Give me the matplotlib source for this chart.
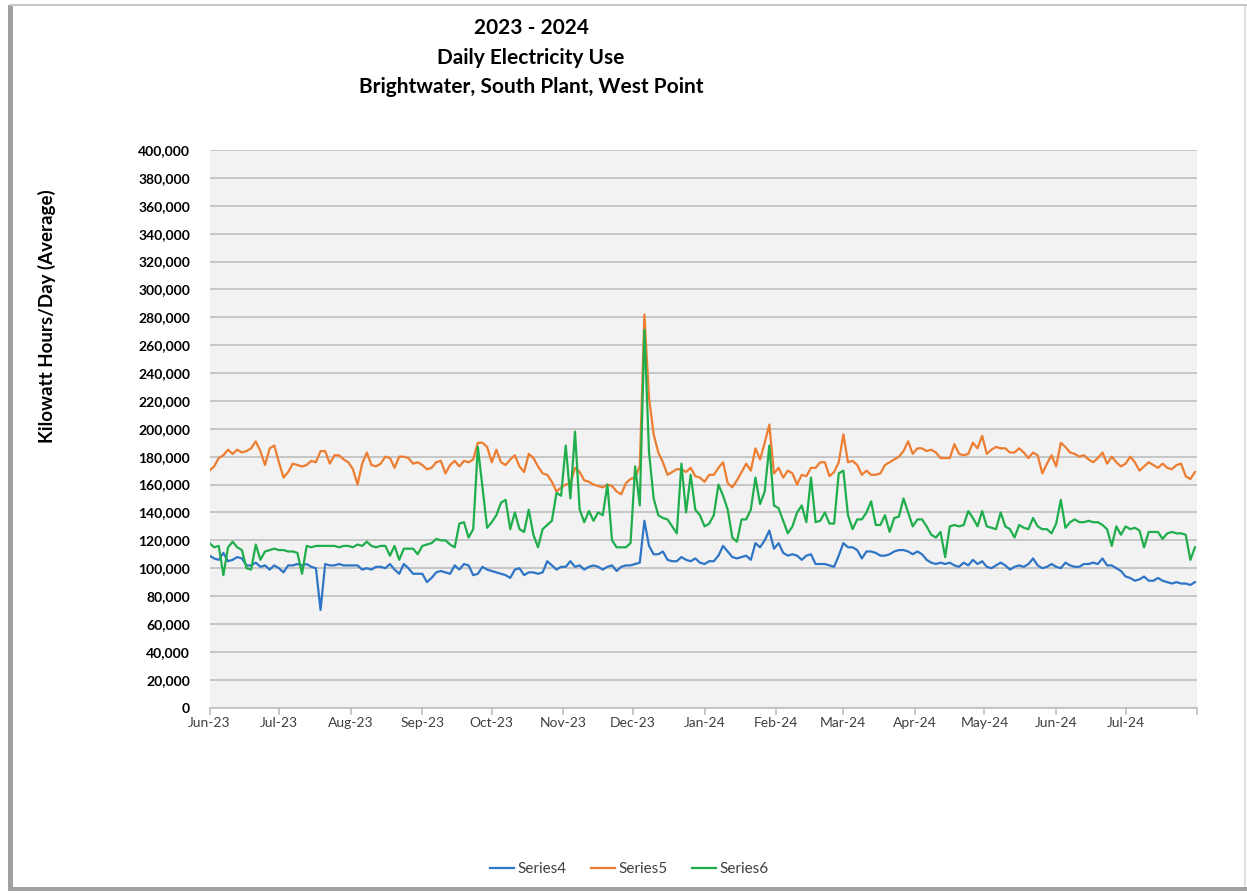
import numpy as np
import pandas as pd
import matplotlib
matplotlib.use('Agg')
import matplotlib.pyplot as plt
from matplotlib.ticker import FuncFormatter, MultipleLocator
from matplotlib.patches import Rectangle

plt.rcParams['font.family'] = ['Lato', 'DejaVu Sans']

# readings every second day, Jun 1 2023 - Jul 31 2024 (thousand kWh/day)
dates = pd.date_range('2023-06-01', '2024-07-31', freq='2D')

series4 = [109, 107, 106, 111, 105, 106, 108, 107, 102, 102, 104, 101, 102, 99, 102, 100, 97, 102, 102, 103,
           102, 103, 101, 100, 70, 103, 102, 102, 103, 102, 102, 102, 102, 99, 100, 99, 101, 101, 100, 103,
           99, 96, 103, 100, 96, 96, 96, 90, 93, 97, 98, 97,
           96, 102, 99, 103, 102, 95, 96, 101, 99, 98, 97, 96, 95, 93, 99, 100, 95, 97, 97, 96,
           97, 105, 102, 99, 101, 101, 105, 101, 102, 99, 101, 102, 101, 99, 101, 102, 98, 101, 102, 102,
           103, 104, 134, 116, 110, 110, 112, 106, 105, 105, 108, 106, 105, 107,
           104, 103, 105, 105, 109, 116, 112, 108, 107, 108, 109, 106, 118, 115, 120, 127, 114, 118, 111, 109,
           110, 109, 106, 109, 110, 103, 103, 103, 102, 101, 109, 118, 115, 115, 113, 107, 112, 112, 111, 109,
           109, 110, 112, 113, 113, 112, 110, 112, 110, 106, 104, 103, 104, 103,
           104, 102, 101, 104, 102, 106, 103, 105, 101, 100, 102, 104, 102, 99, 101, 102, 101, 103, 107, 102,
           100, 101, 103, 101, 100, 104, 102, 101, 101, 103, 103, 104, 103, 107, 102, 102, 100, 98, 94, 93,
           91, 92, 94, 91, 91, 93, 91, 90, 89, 90, 89, 89, 88, 90]

series5 = [170, 173, 179, 181, 185, 182, 185, 183, 184, 186, 191, 184, 174, 186, 188, 176, 165, 169, 175, 174,
           173, 174, 177, 176, 184, 184, 175, 181, 181, 178, 176, 171, 160, 175, 183, 174, 173, 175, 180, 179,
           172, 180, 180, 179, 175, 176, 174, 171, 172, 176, 177, 168,
           174, 177, 173, 177, 176, 178, 190, 190, 187, 176, 185, 176, 174, 178, 181, 173, 169, 182, 179, 173,
           168, 167, 162, 155, 158, 160, 161, 172, 169, 163, 162, 160, 159, 158, 160, 159, 155, 153, 161, 164,
           165, 173, 282, 222, 196, 183, 176, 167, 169, 171, 171, 169, 172, 166,
           165, 162, 167, 167, 172, 176, 161, 158, 163, 169, 175, 170, 186, 178, 190, 203, 168, 172, 165, 170,
           168, 160, 167, 166, 172, 172, 176, 176, 166, 169, 176, 196, 176, 177, 174, 167, 170, 167, 167, 168,
           174, 176, 178, 180, 184, 191, 182, 186, 186, 184, 185, 183, 179, 179,
           179, 189, 182, 181, 182, 190, 186, 195, 182, 185, 187, 186, 186, 183, 183, 186, 183, 179, 183, 181,
           168, 175, 181, 173, 190, 187, 183, 182, 180, 181, 178, 176, 179, 183, 175, 180, 176, 173, 175, 180,
           176, 170, 173, 176, 174, 172, 175, 172, 171, 174, 175, 166, 164, 169]

series6 = [118, 115, 116, 95, 115, 119, 115, 113, 100, 99, 117, 106, 112, 113, 114, 113, 113, 112, 112, 111,
           96, 116, 115, 116, 116, 116, 116, 116, 115, 116, 116, 115, 117, 116, 119, 116, 115, 116, 116, 109,
           116, 106, 114, 114, 114, 110, 116, 117, 118, 121, 120, 120,
           117, 115, 132, 133, 122, 128, 187, 158, 129, 133, 138, 147, 149, 128, 140, 128, 126, 142, 124, 115,
           128, 131, 134, 154, 152, 188, 150, 198, 142, 133, 141, 134, 140, 138, 160, 120, 115, 115, 115, 118,
           173, 145, 271, 183, 150, 138, 136, 135, 130, 125, 175, 140, 167, 142,
           138, 130, 132, 138, 160, 152, 142, 122, 119, 135, 135, 142, 165, 146, 155, 188, 145, 143, 134, 125,
           130, 140, 145, 133, 165, 133, 134, 140, 132, 132, 168, 170, 138, 128, 135, 135, 140, 148, 131, 131,
           138, 126, 136, 137, 150, 140, 130, 135, 135, 130, 124, 122, 126, 108,
           130, 131, 130, 131, 141, 136, 130, 141, 130, 129, 128, 140, 130, 128, 122, 131, 129, 128, 136, 130,
           128, 128, 125, 132, 149, 129, 133, 135, 133, 133, 134, 133, 133, 131, 128, 116, 130, 124, 130, 128,
           129, 127, 115, 126, 126, 126, 121, 125, 126, 125, 125, 124, 106, 115]

month_ticks = pd.date_range('2023-06-01', '2024-08-01', freq='MS')
month_labels = [d.strftime('%b-%y') for d in month_ticks[:-1]] + ['']

fig = plt.figure(figsize=(12.47, 8.93), dpi=100)
fig.patch.set_facecolor('white')

# frame with shadow like the exported chart
fig.add_artist(Rectangle((8 / 1247, 3 / 893), 5 / 1247, 885 / 893, transform=fig.transFigure,
                         facecolor='#a0a0a0', edgecolor='none'))
fig.add_artist(Rectangle((8 / 1247, 2 / 893), 1239 / 1247, 4 / 893, transform=fig.transFigure,
                         facecolor='#a0a0a0', edgecolor='none'))
fig.add_artist(Rectangle((10 / 1247, 887 / 893), 1237 / 1247, 2 / 893, transform=fig.transFigure,
                         facecolor='#c8c8c8', edgecolor='none'))
fig.add_artist(Rectangle((1244 / 1247, 6 / 893), 2 / 1247, 881 / 893, transform=fig.transFigure,
                         facecolor='#e0e0e0', edgecolor='none'))

ax = fig.add_axes([209.5 / 1247, 1 - 707.6 / 893, 987.8 / 1247, 557.6 / 893])
ax.set_facecolor('#f2f2f2')

ax.plot(dates, np.array(series4) * 1000, color='#2e75c5', lw=1.6, label='Series4', zorder=3)
ax.plot(dates, np.array(series5) * 1000, color='#ed7d31', lw=1.6, label='Series5', zorder=3)
ax.plot(dates, np.array(series6) * 1000, color='#1fae4b', lw=1.6, label='Series6', zorder=4)

ax.set_ylim(0, 400000)
ax.yaxis.set_major_locator(MultipleLocator(20000))
ax.yaxis.set_major_formatter(FuncFormatter(lambda v, p: '{:,.0f}'.format(v)))
ax.grid(axis='y', color='#bfbfbf', lw=1.2)
ax.set_axisbelow(True)

ax.set_xlim(month_ticks[0], month_ticks[-1])
ax.set_xticks(month_ticks)
ax.set_xticklabels(month_labels)

for s in ['top', 'right', 'left']:
    ax.spines[s].set_visible(False)
ax.spines['bottom'].set_color('#bfbfbf')
ax.spines['bottom'].set_linewidth(1.2)
ax.tick_params(axis='y', length=0, pad=14, labelsize=10)
ax.tick_params(axis='x', length=5, color='#bfbfbf', width=1.2, pad=2, labelsize=10, labelcolor='#404040')
for lbl in ax.get_yticklabels():
    lbl.set_fontweight('bold')

# titles
fig.text(531 / 1247, 1 - 28 / 893, '2023 - 2024', ha='center', va='center', fontsize=15, fontweight='bold')
fig.text(531 / 1247, 1 - 58 / 893, 'Daily Electricity Use', ha='center', va='center', fontsize=15,
         fontweight='bold')
fig.text(531 / 1247, 1 - 87 / 893, 'Brightwater, South Plant, West Point', ha='center', va='center',
         fontsize=15, fontweight='bold')
fig.text(47 / 1247, 1 - 316 / 893, 'Kilowatt Hours/Day (Average)', ha='center', va='center',
         rotation=90, fontsize=13.5, fontweight='bold')

fig.legend(loc='center', bbox_to_anchor=(629 / 1247, 1 - 869 / 893), ncol=3, frameon=False,
           fontsize=11, handlelength=1.6, handletextpad=0.2, columnspacing=1.6, labelcolor='#404040')

fig.savefig('out.png', dpi=100)
